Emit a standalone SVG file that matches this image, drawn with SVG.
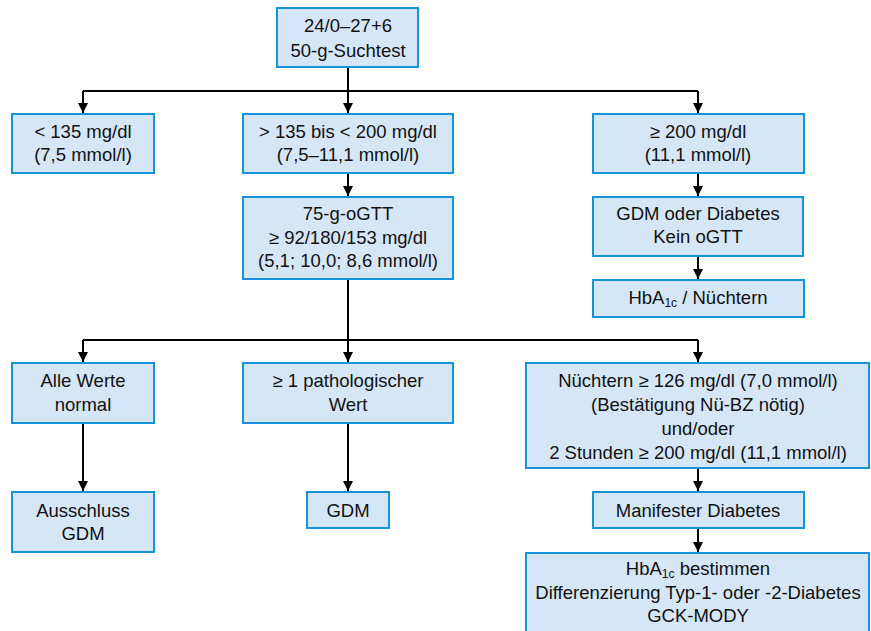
<svg xmlns="http://www.w3.org/2000/svg" width="871" height="631" viewBox="0 0 871 631">
<defs>
<marker id="ah" markerUnits="userSpaceOnUse" markerWidth="10" markerHeight="10" viewBox="0 0 10 10" refX="10" refY="5" orient="auto">
<path d="M0,0 L10,5 L0,10 Z" fill="#000"/>
</marker>
<style>
.box{fill:#d5e7f7;stroke:#1893d8;stroke-width:2}
text{font-family:"Liberation Sans","DejaVu Sans",sans-serif;font-size:18.5px;fill:#111;text-anchor:middle}
.sub{font-size:12px}
.c{fill:none;stroke:#000;stroke-width:2}
</style>
</defs>
<rect width="871" height="631" fill="#fff"/>
<g id="connectors">
<path class="c" d="M83,91 H698"/>
<path class="c" d="M83,340 H698"/>
<path class="c" d="M348,67 V113" marker-end="url(#ah)"/>
<path class="c" d="M83,91 V113" marker-end="url(#ah)"/>
<path class="c" d="M698,91 V113" marker-end="url(#ah)"/>
<path class="c" d="M348,173 V196" marker-end="url(#ah)"/>
<path class="c" d="M698,173 V196" marker-end="url(#ah)"/>
<path class="c" d="M698,256 V279" marker-end="url(#ah)"/>
<path class="c" d="M348,279 V362" marker-end="url(#ah)"/>
<path class="c" d="M83,340 V362" marker-end="url(#ah)"/>
<path class="c" d="M698,340 V362" marker-end="url(#ah)"/>
<path class="c" d="M83,423 V491" marker-end="url(#ah)"/>
<path class="c" d="M348,423 V491" marker-end="url(#ah)"/>
<path class="c" d="M698,468 V491" marker-end="url(#ah)"/>
<path class="c" d="M698,528 V552" marker-end="url(#ah)"/>
</g>
<g id="n-start">
<rect class="box" x="277" y="8" width="141" height="59"/>
<text x="348" y="32">24/0–27+6</text>
<text x="348" y="57">50-g-Suchtest</text>
</g>
<g id="n-low">
<rect class="box" x="12" y="114" width="142" height="59"/>
<text x="83" y="138">&lt; 135 mg/dl</text>
<text x="83" y="161">(7,5 mmol/l)</text>
</g>
<g id="n-mid">
<rect class="box" x="243" y="114" width="210" height="59"/>
<text x="348" y="138">&gt; 135 bis &lt; 200 mg/dl</text>
<text x="348" y="161">(7,5–11,1 mmol/l)</text>
</g>
<g id="n-high">
<rect class="box" x="593" y="114" width="211" height="59"/>
<text x="698" y="138">≥ 200 mg/dl</text>
<text x="698" y="161">(11,1 mmol/l)</text>
</g>
<g id="n-ogtt">
<rect class="box" x="243" y="197" width="210" height="82"/>
<text x="348" y="220">75-g-oGTT</text>
<text x="348" y="244">≥ 92/180/153 mg/dl</text>
<text x="348" y="267">(5,1; 10,0; 8,6 mmol/l)</text>
</g>
<g id="n-gdmdiab">
<rect class="box" x="593" y="197" width="210" height="59"/>
<text x="698" y="220">GDM oder Diabetes</text>
<text x="698" y="243">Kein oGTT</text>
</g>
<g id="n-hba1c">
<rect class="box" x="593" y="280" width="211" height="37"/>
<text x="698" y="304">HbA<tspan class="sub" dy="3">1c</tspan><tspan dy="-3"> / Nüchtern</tspan></text>
</g>
<g id="n-normal">
<rect class="box" x="12" y="363" width="142" height="60"/>
<text x="83" y="387">Alle Werte</text>
<text x="83" y="411">normal</text>
</g>
<g id="n-patho">
<rect class="box" x="243" y="363" width="210" height="60"/>
<text x="348" y="387">≥ 1 pathologischer</text>
<text x="348" y="411">Wert</text>
</g>
<g id="n-nuechtern">
<rect class="box" x="526" y="363" width="343" height="105"/>
<text x="698" y="387">Nüchtern ≥ 126 mg/dl (7,0 mmol/l)</text>
<text x="698" y="411">(Bestätigung Nü-BZ nötig)</text>
<text x="698" y="435">und/oder</text>
<text x="698" y="459">2 Stunden ≥ 200 mg/dl (11,1 mmol/l)</text>
</g>
<g id="n-ausschluss">
<rect class="box" x="12" y="492" width="142" height="60"/>
<text x="83" y="517">Ausschluss</text>
<text x="83" y="540">GDM</text>
</g>
<g id="n-gdm">
<rect class="box" x="307" y="492" width="82" height="36"/>
<text x="348" y="517">GDM</text>
</g>
<g id="n-manifest">
<rect class="box" x="593" y="492" width="211" height="36"/>
<text x="698" y="517">Manifester Diabetes</text>
</g>
<g id="n-final">
<rect class="box" x="526" y="553" width="343" height="100"/>
<text x="698" y="575">HbA<tspan class="sub" dy="3">1c</tspan><tspan dy="-3"> bestimmen</tspan></text>
<text x="698" y="599">Differenzierung Typ-1- oder -2-Diabetes</text>
<text x="698" y="622">GCK-MODY</text>
</g>
</svg>
